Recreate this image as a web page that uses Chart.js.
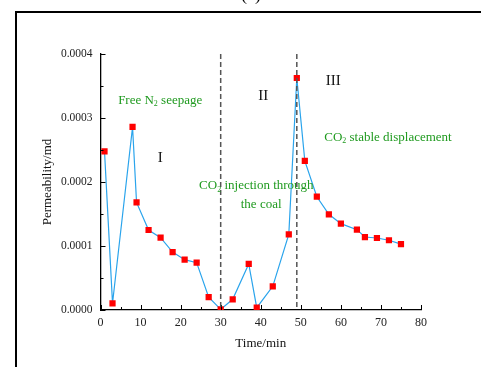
<!DOCTYPE html>
<html>
<head>
<meta charset="utf-8">
<script src="https://cdn.jsdelivr.net/npm/chart.js@4"></script>
<style>
  html, body { margin: 0; padding: 0; background: #fff; }
  #wrap { width: 481px; height: 367px; }
</style>
</head>
<body>
<div id="wrap"><canvas id="myChart" width="481" height="367"></canvas></div>
<script>
// Permeability vs time
const timeMin = [1, 3, 8, 9, 12, 15, 18, 21, 24, 27, 30, 33, 37, 39, 43, 47, 49, 51, 54, 57, 60, 64, 66, 69, 72, 75];
const permeability = [
    0.000248, 0.0000105, 0.000286, 0.000168, 0.000125, 0.000113, 0.0000906, 0.0000786, 0.000074,
    0.000020, 0.000001, 0.0000167, 0.000072, 0.0000036, 0.000037, 0.000118, 0.0003625,
    0.000233, 0.000177, 0.0001495, 0.000135, 0.0001255, 0.000114, 0.0001125, 0.000109, 0.000103
];
const stageBounds = [30, 49];            // dashed separators
const xTicks = [0, 10, 20, 30, 40, 50, 60, 70, 80];
const yTicks = [0, 0.0001, 0.0002, 0.0003, 0.0004];

const SERIF = '"Liberation Serif", "DejaVu Serif", serif';
const GREEN = '#1f9a1f';

// text labels placed in data coordinates; parts with sub:true are subscripts
const notes = [
    { x: 14.9, y: 0.000328, color: GREEN, parts: [{t: 'Free N'}, {t: '2', sub: true}, {t: ' seepage'}] },
    { x: 14.9, y: 0.0002375, color: '#111', size: 15, parts: [{t: 'I'}] },
    { x: 40.6, y: 0.000334, color: '#111', size: 15, parts: [{t: 'II'}] },
    { x: 58.1, y: 0.000358, color: '#111', size: 15, parts: [{t: 'III'}] },
    { x: 71.75, y: 0.000270, color: GREEN, parts: [{t: 'CO'}, {t: '2', sub: true}, {t: ' stable displacement'}] },
    { x: 38.9, y: 0.000194, color: GREEN, parts: [{t: 'CO'}, {t: '2', sub: true}, {t: ' injection through'}] },
    { x: 40.1, y: 0.000164, color: GREEN, parts: [{t: 'the coal'}] }
];

function drawRich(ctx, n, cx, cy) {
    const size = n.size || 13;
    const main = size + 'px ' + SERIF;
    const small = Math.round(size * 0.65) + 'px ' + SERIF;
    let total = 0;
    n.parts.forEach(p => {
        ctx.font = p.sub ? small : main;
        total += ctx.measureText(p.t).width;
    });
    let x = cx - total / 2;
    ctx.fillStyle = n.color;
    ctx.textAlign = 'left';
    ctx.textBaseline = 'middle';
    n.parts.forEach(p => {
        ctx.font = p.sub ? small : main;
        ctx.fillText(p.t, x, p.sub ? cy + size * 0.3 : cy);
        x += ctx.measureText(p.t).width;
    });
}

const decor = {
    id: 'decor',
    afterDraw(chart) {
        const ctx = chart.ctx;
        const xs = chart.scales.x, ys = chart.scales.y;
        const area = chart.chartArea;
        ctx.save();

        // outer frame (left and top edges visible)
        ctx.strokeStyle = '#000';
        ctx.lineWidth = 2;
        ctx.beginPath();
        ctx.moveTo(16, 367);
        ctx.lineTo(16, 12);
        ctx.lineTo(481, 12);
        ctx.stroke();

        // clipped panel label
        ctx.fillStyle = '#000';
        ctx.font = '18px ' + SERIF;
        ctx.textAlign = 'center';
        ctx.textBaseline = 'alphabetic';
        ctx.fillText('(a)', 251, 0);

        // inward ticks, major and minor
        ctx.strokeStyle = '#000';
        ctx.lineWidth = 1;
        ctx.beginPath();
        for (let v = 0; v <= 80; v += 5) {
            const px = Math.round(xs.getPixelForValue(v)) + 0.5;
            const len = v % 10 === 0 ? 5 : 3;
            ctx.moveTo(px, area.bottom);
            ctx.lineTo(px, area.bottom - len);
        }
        for (let i = 0; i <= 8; i++) {
            const v = i * 0.00005;
            const py = Math.round(ys.getPixelForValue(v)) + 0.5;
            const len = i % 2 === 0 ? 5 : 3;
            ctx.moveTo(area.left, py);
            ctx.lineTo(area.left + len, py);
        }
        ctx.stroke();

        // stage separators
        ctx.strokeStyle = '#555';
        ctx.lineWidth = 1.5;
        ctx.setLineDash([5, 3]);
        stageBounds.forEach(b => {
            const px = xs.getPixelForValue(b);
            ctx.beginPath();
            ctx.moveTo(px, area.top);
            ctx.lineTo(px, area.bottom);
            ctx.stroke();
        });
        ctx.setLineDash([]);

        notes.forEach(n => drawRich(ctx, n, xs.getPixelForValue(n.x), ys.getPixelForValue(n.y)));
        ctx.restore();
    }
};

const ctx = document.getElementById('myChart');
const myChart = new Chart(ctx, {
    type: 'line',
    data: {
        datasets: [{
            data: timeMin.map((t, i) => ({x: t, y: permeability[i]})),
            borderColor: '#2aa4ec',
            borderWidth: 1.2,
            pointStyle: 'rect',
            pointRadius: 4.4,
            pointBackgroundColor: '#ff0000',
            pointBorderColor: '#ff0000',
            pointBorderWidth: 0,
            tension: 0
        }]
    },
    options: {
        responsive: false,
        animation: false,
        layout: { padding: { left: 0, top: 54, right: 60, bottom: 0 } },
        plugins: { legend: { display: false }, tooltip: { enabled: false } },
        scales: {
            x: {
                type: 'linear',
                min: 0, max: 80,
                afterBuildTicks: s => { s.ticks = xTicks.map(v => ({value: v})); },
                afterFit: s => { s.height = 57; },
                grid: { display: false, drawTicks: false },
                border: { color: '#000', width: 1.3 },
                ticks: { padding: 6, color: '#222', font: { family: SERIF, size: 12 } },
                title: { display: true, text: 'Time/min', color: '#111',
                         font: { family: SERIF, size: 13 }, padding: { top: 0, bottom: 16 } }
            },
            y: {
                min: 0, max: 0.0004,
                afterBuildTicks: s => { s.ticks = yTicks.map(v => ({value: v})); },
                afterFit: s => { s.width = 100.5; },
                grid: { display: false, drawTicks: false },
                border: { color: '#000', width: 1.3 },
                ticks: { padding: 8, color: '#222', font: { family: SERIF, size: 11.5 },
                         callback: v => v.toFixed(4) },
                title: { display: true, text: 'Permeability/md', color: '#111',
                         font: { family: SERIF, size: 13 }, padding: { top: 40, bottom: 0 } }
            }
        }
    },
    plugins: [decor]
});
</script>
</body>
</html>
